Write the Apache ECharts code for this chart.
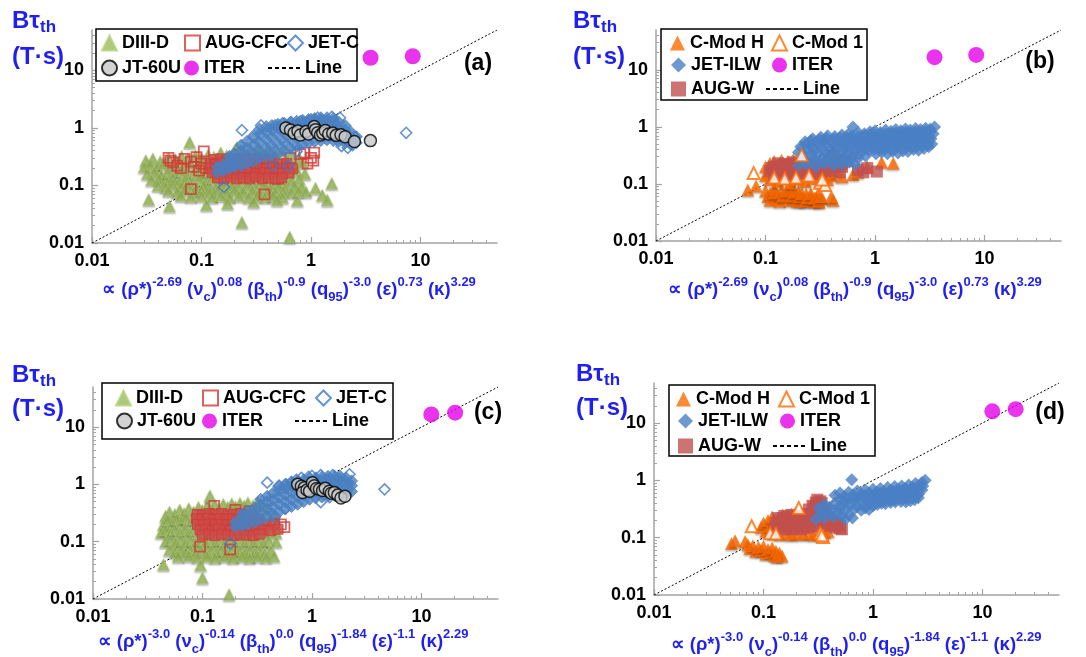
<!DOCTYPE html>
<html>
<head>
<meta charset="utf-8">
<script src="https://cdn.jsdelivr.net/npm/echarts@6/dist/echarts.min.js"></script>
<style>
  html, body { margin: 0; padding: 0; background: #fff; }
  #chart { width: 1086px; height: 657px; }
</style>
</head>
<body>
<div id="chart"></div>
<script>
// ---- axis ticks ----
const majorTicks = [0.01, 0.1, 1, 10];
const axisMin = 0.01;
const axisMax = 50;
const lineData = [[0.01, 0.01], [50, 50]];

// exponents written under the x axis
const expsTop = ['-2.69', '0.08', '-0.9', '-3.0', '0.73', '3.29'];
const expsBottom = ['-3.0', '-0.14', '0.0', '-1.84', '-1.1', '2.29'];

// ---- panel (a) ----
const diiidA = [
  [0.031,0.27],[0.036,0.29],[0.042,0.26],[0.05,0.3],[0.058,0.28],[0.066,0.32],[0.075,0.29],[0.078,0.56],[0.088,0.33],[0.1,0.3],[0.115,0.34],[0.13,0.31],[0.15,0.37],[0.17,0.33],[0.2,0.4],[0.21,0.46],[0.24,0.36],[0.28,0.42],[0.33,0.48],[0.34,0.38],[0.4,0.41],[0.47,0.36],[0.55,0.4],[0.65,0.34],[0.78,0.3],
  [0.03,0.21],[0.034,0.23],[0.039,0.2],[0.045,0.24],[0.052,0.21],[0.06,0.23],[0.07,0.2],[0.08,0.24],[0.092,0.21],[0.105,0.23],[0.12,0.2],[0.14,0.24],[0.16,0.21],[0.19,0.25],[0.22,0.21],[0.26,0.27],[0.3,0.22],[0.36,0.26],[0.43,0.23],[0.5,0.28],[0.6,0.24],[0.7,0.22],[0.84,0.25],
  [0.032,0.16],[0.037,0.17],[0.043,0.15],[0.049,0.17],[0.056,0.16],[0.064,0.18],[0.073,0.15],[0.085,0.17],[0.098,0.16],[0.11,0.18],[0.13,0.15],[0.15,0.17],[0.175,0.16],[0.2,0.18],[0.24,0.15],[0.28,0.17],[0.33,0.16],[0.39,0.18],[0.46,0.15],[0.54,0.17],[0.63,0.16],[0.74,0.18],[0.88,0.16],
  [0.035,0.125],[0.041,0.13],[0.048,0.12],[0.055,0.135],[0.063,0.12],[0.072,0.13],[0.083,0.115],[0.095,0.13],[0.11,0.12],[0.125,0.135],[0.145,0.12],[0.165,0.13],[0.19,0.115],[0.22,0.13],[0.26,0.12],[0.3,0.135],[0.35,0.12],[0.41,0.13],[0.48,0.115],[0.56,0.13],[0.66,0.12],[0.78,0.13],
  [0.04,0.1],[0.047,0.095],[0.055,0.105],[0.065,0.095],[0.076,0.1],[0.09,0.092],[0.105,0.1],[0.12,0.093],[0.14,0.102],[0.165,0.094],[0.19,0.1],[0.22,0.092],[0.26,0.1],[0.31,0.094],[0.36,0.102],[0.42,0.093],[0.5,0.1],[0.58,0.092],[0.7,0.1],[0.82,0.095],
  [0.05,0.082],[0.06,0.078],[0.07,0.085],[0.085,0.078],[0.1,0.083],[0.12,0.077],[0.14,0.082],[0.17,0.076],[0.2,0.083],[0.24,0.078],[0.29,0.082],[0.34,0.076],[0.4,0.083],[0.47,0.078],[0.56,0.08],[0.66,0.076],[0.77,0.08],
  [0.065,0.067],[0.08,0.064],[0.1,0.066],[0.125,0.063],[0.15,0.067],[0.18,0.063],[0.22,0.066],[0.27,0.062],[0.32,0.066],[0.38,0.063],[0.45,0.066],[0.55,0.062],
  [0.033,0.057],[0.051,0.044],[0.111,0.046],[0.173,0.049],[0.234,0.023],[0.3,0.052],[0.49,0.056],[0.64,0.0127],[0.75,0.055],[0.9,0.078],[1.1,0.09],[1.27,0.068],[1.41,0.056],[1.55,0.109]
];
// scattered hollow squares
const augCfcA = [
  [0.05,0.3],[0.052,0.27],[0.055,0.25],[0.06,0.22],[0.065,0.2],[0.07,0.29],[0.08,0.26],[0.08,0.086],[0.085,0.21],[0.09,0.31],[0.095,0.18],[0.1,0.24],[0.105,0.39],[0.11,0.2],
  [0.376,0.07],[0.5,0.13],[0.65,0.3],[0.8,0.35],[0.87,0.37],[0.93,0.24],[1.0,0.3],[1.07,0.37],[1.05,0.27]
];
// dense part of the same set, where the squares merge
const augCfcCoreA = [
  [0.13,0.28],[0.15,0.29],[0.17,0.27],[0.19,0.29],[0.22,0.28],[0.25,0.29],[0.28,0.27],[0.32,0.29],[0.37,0.28],[0.42,0.29],
  [0.12,0.24],[0.135,0.23],[0.155,0.245],[0.175,0.235],[0.2,0.24],[0.23,0.23],[0.26,0.245],[0.3,0.235],[0.34,0.24],[0.39,0.23],[0.45,0.245],[0.52,0.235],[0.6,0.24],
  [0.12,0.2],[0.135,0.195],[0.155,0.205],[0.175,0.195],[0.2,0.2],[0.23,0.195],[0.26,0.205],[0.3,0.195],[0.34,0.2],[0.39,0.195],[0.45,0.205],[0.52,0.195],[0.6,0.2],[0.68,0.195],
  [0.125,0.165],[0.145,0.16],[0.165,0.17],[0.19,0.16],[0.215,0.165],[0.245,0.16],[0.28,0.17],[0.32,0.16],[0.37,0.165],[0.42,0.16],[0.48,0.17],[0.55,0.16],[0.63,0.165],
  [0.14,0.135],[0.16,0.13],[0.185,0.14],[0.21,0.13],[0.24,0.135],[0.275,0.13],[0.31,0.14],[0.36,0.13],[0.41,0.135],[0.47,0.13],[0.54,0.135]
];
const jetCA = [
  [0.16,0.094],[0.234,0.91],[0.3,0.73],[0.35,1.1],[0.47,1.1],[0.55,1.2],[0.66,1.25],[0.8,1.3],[1.0,1.4],[1.15,1.5],[1.55,1.55],[1.84,1.5],[1.9,0.48],[2.17,0.45],[2.4,0.5],[2.5,0.7],[0.74,0.39],[0.62,0.22],[0.45,0.22],[7.4,0.82]
];
const jetCCoreA = [
  [0.14,0.17],[0.14,0.21],[0.16,0.18],[0.16,0.23],[0.18,0.2],[0.18,0.26],[0.18,0.32],[0.2,0.21],[0.2,0.28],[0.2,0.36],
  [0.23,0.22],[0.23,0.3],[0.23,0.4],[0.23,0.5],[0.26,0.24],[0.26,0.33],[0.26,0.44],[0.26,0.58],[0.3,0.26],[0.3,0.36],[0.3,0.5],[0.3,0.68],
  [0.34,0.3],[0.34,0.4],[0.34,0.56],[0.34,0.78],[0.34,0.95],[0.39,0.32],[0.39,0.44],[0.39,0.62],[0.39,0.85],[0.39,1.05],
  [0.44,0.34],[0.44,0.48],[0.44,0.68],[0.44,0.92],[0.44,1.1],[0.5,0.36],[0.5,0.52],[0.5,0.74],[0.5,1.0],[0.5,1.15],
  [0.57,0.4],[0.57,0.57],[0.57,0.8],[0.57,1.05],[0.57,1.2],[0.65,0.44],[0.65,0.62],[0.65,0.86],[0.65,1.1],[0.65,1.25],
  [0.74,0.48],[0.74,0.68],[0.74,0.92],[0.74,1.15],[0.74,1.3],[0.84,0.52],[0.84,0.74],[0.84,1.0],[0.84,1.25],[0.84,1.35],
  [0.95,0.55],[0.95,0.8],[0.95,1.05],[0.95,1.3],[0.95,1.4],[1.08,0.58],[1.08,0.82],[1.08,1.1],[1.08,1.35],[1.08,1.45],
  [1.23,0.6],[1.23,0.85],[1.23,1.12],[1.23,1.4],[1.23,1.5],[1.4,0.62],[1.4,0.85],[1.4,1.1],[1.4,1.35],[1.4,1.5],
  [1.6,0.6],[1.6,0.82],[1.6,1.05],[1.6,1.3],[1.6,1.45],[1.8,0.58],[1.8,0.78],[1.8,1.0],[1.8,1.25],
  [2.05,0.55],[2.05,0.72],[2.05,0.92],[2.05,1.1],[2.3,0.52],[2.3,0.68],[2.3,0.85],[2.6,0.55],[2.6,0.7]
];
const jt60uA = [
  [0.59,0.99],[0.65,0.92],[0.7,0.81],[0.76,0.88],[0.8,0.75],[0.9,0.86],[0.95,0.78],[1.07,1.05],[1.1,0.93],[1.15,0.82],[1.22,0.75],[1.28,0.81],[1.35,0.9],[1.45,0.78],[1.58,0.81],[1.7,0.74],[1.88,0.76],[2.05,0.7],[2.49,0.58],[3.49,0.6]
];
const iterA = [[3.5, 16.5], [8.5, 17.5]];

// ---- panel (b) ----
const cmodHB = [
  [0.1,0.2],[0.105,0.16],[0.11,0.23],[0.1,0.14],[0.12,0.25],[0.14,0.26],[0.16,0.25],[0.18,0.27],[0.21,0.25],[0.24,0.26],[0.28,0.24],[0.33,0.15],[0.36,0.18],[0.4,0.14],[0.44,0.16],
  [0.069,0.078],[0.082,0.092],[0.1,0.075],[0.105,0.06],[0.11,0.068],[0.12,0.082],[0.125,0.056],[0.13,0.065],[0.14,0.075],[0.15,0.058],[0.16,0.068],[0.17,0.08],[0.18,0.055],[0.19,0.063],[0.2,0.072],[0.21,0.05],[0.22,0.058],[0.235,0.066],[0.25,0.052],[0.26,0.06],[0.275,0.05],[0.29,0.058],[0.3,0.065],[0.31,0.048],[0.33,0.055],[0.416,0.052],[0.4,0.06],
  [0.11,0.052],[0.12,0.07],[0.135,0.05],[0.145,0.062],[0.155,0.075],[0.165,0.052],[0.175,0.062],[0.185,0.072],[0.195,0.05],[0.205,0.06],[0.215,0.068],[0.23,0.05],[0.245,0.058],[0.26,0.068],[0.28,0.056],[0.3,0.05],[0.32,0.06],
  [0.11,0.12],[0.13,0.11],[0.15,0.125],[0.17,0.105],[0.2,0.12],[0.23,0.11],[0.27,0.125],[0.32,0.11],[0.37,0.12],[0.5,0.134],[0.63,0.146],[0.7,0.16],[0.85,0.2],[1.15,0.24],[1.47,0.23]
];
const cmod1B = [[0.078,0.155],[0.214,0.32],[0.315,0.105],[0.35,0.096],[0.12,0.13],[0.15,0.125],[0.19,0.13],[0.25,0.14],[0.33,0.12]];
const augWB = [
  [0.11,0.17],[0.12,0.2],[0.12,0.145],[0.13,0.23],[0.135,0.17],[0.14,0.2],[0.15,0.15],[0.155,0.225],[0.16,0.18],[0.17,0.21],[0.175,0.145],[0.18,0.24],[0.19,0.17],[0.2,0.2],[0.21,0.15],[0.22,0.22],[0.23,0.175],[0.25,0.2],[0.26,0.15],[0.28,0.18],[0.3,0.21],[0.32,0.16],[0.34,0.19],[0.36,0.22],[0.38,0.26],[0.4,0.3],[0.42,0.32],[0.44,0.27],[0.42,0.2],[0.46,0.23],[0.5,0.2],[0.48,0.16],[0.55,0.25],[0.7,0.176],[0.78,0.16],[0.85,0.19],[1.04,0.165],
  [0.115,0.19],[0.125,0.16],[0.13,0.2],[0.14,0.17],[0.145,0.22],[0.15,0.18],[0.16,0.15],[0.165,0.2],[0.17,0.16],[0.18,0.19],[0.185,0.22],[0.19,0.15],[0.2,0.17],[0.21,0.21],[0.215,0.18],[0.22,0.155],[0.24,0.19],[0.24,0.22],[0.27,0.2],[0.27,0.17],[0.29,0.15],[0.31,0.19],[0.33,0.22],[0.35,0.17],[0.37,0.2],[0.39,0.17],[0.41,0.23],[0.44,0.2],[0.47,0.26],[0.5,0.23]
];
const jetIlwB = [
  [0.23,0.55],[0.27,0.62],[0.32,0.66],[0.37,0.7],[0.43,0.68],[0.5,0.72],[0.57,0.74],[0.63,1.0],[0.7,0.8],[0.8,0.76],[0.9,0.82],[1.0,0.85],[1.12,0.8],[1.25,0.88],[1.4,0.84],[1.55,0.9],[1.72,0.86],[1.9,0.92],[2.1,0.88],[2.35,0.94],[2.6,0.9],[2.9,0.95],[3.2,0.92],[3.5,1.0],
  [0.26,0.58],[0.31,0.6],[0.36,0.63],[0.42,0.62],[0.48,0.65],[0.55,0.66],[0.62,0.7],[0.7,0.68],[0.8,0.7],[0.9,0.72],[1.0,0.74],[1.12,0.72],[1.25,0.76],[1.4,0.74],[1.55,0.78],[1.72,0.76],[1.9,0.8],[2.1,0.78],[2.35,0.82],[2.6,0.8],[2.9,0.84],[3.2,0.82],
  [0.21,0.45],[0.25,0.5],[0.29,0.52],[0.34,0.55],[0.4,0.52],[0.46,0.57],[0.53,0.54],[0.6,0.6],[0.68,0.56],[0.76,0.62],[0.86,0.58],[0.96,0.64],[1.08,0.6],[1.2,0.66],[1.35,0.62],[1.5,0.68],[1.68,0.64],[1.86,0.7],[2.05,0.66],[2.3,0.72],[2.55,0.68],[2.85,0.74],[3.1,0.7],[3.4,0.76],
  [0.23,0.48],[0.27,0.46],[0.31,0.47],[0.36,0.48],[0.42,0.47],[0.49,0.49],[0.56,0.5],[0.64,0.5],[0.72,0.51],[0.8,0.52],[0.9,0.53],[1.0,0.52],[1.12,0.55],[1.25,0.56],[1.4,0.57],[1.55,0.58],[1.75,0.59],[1.95,0.6],[2.15,0.6],[2.4,0.61],[2.65,0.62],[2.95,0.63],[3.25,0.62],
  [0.2,0.36],[0.24,0.4],[0.28,0.38],[0.33,0.42],[0.39,0.39],[0.45,0.43],[0.52,0.4],[0.59,0.44],[0.67,0.41],[0.75,0.45],[0.84,0.42],[0.94,0.46],[1.05,0.44],[1.17,0.48],[1.3,0.45],[1.45,0.5],[1.62,0.47],[1.8,0.52],[2.0,0.49],[2.22,0.53],[2.48,0.5],[2.75,0.55],[3.05,0.52],[3.3,0.5],
  [0.22,0.33],[0.26,0.35],[0.3,0.34],[0.35,0.36],[0.42,0.35],[0.49,0.37],[0.57,0.36],[0.66,0.38],[0.76,0.38],[0.88,0.39],[0.98,0.4],[1.1,0.41],[1.23,0.42],[1.38,0.42],[1.55,0.43],[1.72,0.44],[1.92,0.45],[2.15,0.46],[2.4,0.46],[2.7,0.47],[3.0,0.48],
  [0.22,0.28],[0.27,0.3],[0.32,0.27],[0.38,0.31],[0.45,0.28],[0.53,0.32],[0.62,0.29],[0.72,0.33],[0.82,0.31],[1.02,0.34],[1.15,0.36],[1.3,0.34],[1.45,0.37],[1.62,0.35],[1.8,0.38],[2.0,0.37],[2.25,0.4],[2.5,0.39],[2.8,0.42],[3.1,0.45],
  [0.22,0.24],[0.27,0.25],[0.32,0.24],[0.38,0.25],[0.45,0.24],[0.53,0.26],[0.6,0.27],[0.7,0.28],
  [0.2,0.21],[0.24,0.22],[0.29,0.2],[0.35,0.23],[0.42,0.21],[0.5,0.22],[0.58,0.24],[0.66,0.22]
];
const iterB = [[3.5, 16.7], [8.4, 18.3]];

// ---- panel (c) ----
const diiidC = [
  [0.046,0.28],[0.05,0.33],[0.056,0.3],[0.062,0.36],[0.068,0.31],[0.075,0.38],[0.083,0.33],[0.092,0.4],[0.1,0.35],[0.11,0.42],[0.117,0.63],[0.12,0.37],[0.13,0.44],[0.14,0.38],[0.155,0.45],[0.17,0.4],[0.185,0.46],[0.2,0.41],[0.22,0.47],[0.24,0.42],[0.26,0.48],[0.29,0.43],[0.32,0.5],[0.35,0.44],[0.4,0.38],
  [0.044,0.2],[0.048,0.24],[0.053,0.21],[0.058,0.25],[0.064,0.22],[0.07,0.26],[0.077,0.21],[0.085,0.25],[0.094,0.22],[0.104,0.26],[0.115,0.22],[0.127,0.25],[0.14,0.21],[0.155,0.26],[0.17,0.23],[0.19,0.27],[0.21,0.22],[0.23,0.26],[0.26,0.23],[0.29,0.27],[0.32,0.22],[0.36,0.26],[0.41,0.23],[0.46,0.27],
  [0.042,0.144],[0.046,0.16],[0.051,0.14],[0.056,0.165],[0.062,0.145],[0.068,0.16],[0.075,0.14],[0.083,0.165],[0.092,0.145],[0.1,0.16],[0.11,0.14],[0.122,0.165],[0.135,0.145],[0.15,0.16],[0.165,0.14],[0.18,0.165],[0.2,0.145],[0.22,0.16],[0.245,0.14],[0.27,0.165],[0.3,0.145],[0.33,0.16],[0.37,0.14],[0.42,0.16],[0.47,0.145],
  [0.046,0.1],[0.051,0.11],[0.057,0.095],[0.063,0.108],[0.07,0.094],[0.078,0.107],[0.087,0.095],[0.096,0.108],[0.106,0.094],[0.117,0.107],[0.13,0.095],[0.143,0.108],[0.158,0.094],[0.175,0.107],[0.195,0.095],[0.215,0.108],[0.24,0.094],[0.265,0.107],[0.29,0.095],[0.32,0.108],[0.36,0.094],[0.4,0.107],[0.47,0.1],
  [0.05,0.072],[0.056,0.066],[0.063,0.074],[0.07,0.065],[0.078,0.072],[0.087,0.065],[0.097,0.073],[0.108,0.064],[0.12,0.071],[0.133,0.064],[0.148,0.072],[0.165,0.063],[0.183,0.071],[0.2,0.064],[0.22,0.072],[0.245,0.063],[0.27,0.071],[0.3,0.064],[0.33,0.072],[0.37,0.063],[0.42,0.07],[0.45,0.056],
  [0.06,0.055],[0.075,0.057],[0.09,0.054],[0.11,0.056],[0.13,0.053],[0.16,0.056],[0.19,0.053],[0.23,0.056],[0.27,0.053],[0.32,0.056],[0.38,0.054],
  [0.044,0.04],[0.096,0.039],[0.1,0.0235],[0.175,0.012]
];
const augCfcC = [
  [0.095,0.082],[0.128,0.42],[0.179,0.073],[0.2,0.36],[0.27,0.34],[0.45,0.21],[0.52,0.2],[0.56,0.18]
];
const augCfcCoreC = [
  [0.09,0.3],[0.1,0.29],[0.115,0.31],[0.13,0.3],[0.15,0.31],[0.17,0.29],[0.19,0.3],[0.22,0.31],[0.25,0.29],
  [0.088,0.25],[0.1,0.245],[0.113,0.255],[0.128,0.245],[0.145,0.25],[0.165,0.245],[0.19,0.255],[0.215,0.245],[0.245,0.25],[0.28,0.245],[0.32,0.25],
  [0.09,0.2],[0.102,0.195],[0.116,0.205],[0.132,0.195],[0.15,0.2],[0.17,0.195],[0.195,0.205],[0.22,0.195],[0.25,0.2],[0.29,0.195],[0.33,0.205],[0.38,0.195],[0.44,0.2],
  [0.095,0.16],[0.108,0.165],[0.123,0.155],[0.14,0.165],[0.16,0.16],[0.18,0.155],[0.205,0.165],[0.235,0.16],[0.27,0.155],[0.31,0.165],[0.36,0.16],[0.42,0.155],[0.49,0.165],
  [0.1,0.13],[0.115,0.135],[0.13,0.128],[0.15,0.135],[0.17,0.13],[0.195,0.128],[0.22,0.135],[0.25,0.13],[0.29,0.128],[0.33,0.135]
];
const jetCC = [
  [0.18,0.093],[0.39,1.07],[0.5,0.95],[0.58,1.0],[0.65,1.1],[0.72,1.2],[0.8,1.3],[0.93,1.35],[1.0,1.4],[1.2,1.45],[1.55,1.45],[2.2,1.5],[1.2,0.49],[1.45,0.6],[1.75,0.62],[0.46,0.27],[0.57,0.38],[4.6,0.82]
];
const jetCCoreC = [
  [0.2,0.18],[0.2,0.22],[0.23,0.19],[0.23,0.25],[0.23,0.3],[0.26,0.2],[0.26,0.27],[0.26,0.34],[0.3,0.22],[0.3,0.3],[0.3,0.39],
  [0.34,0.24],[0.34,0.33],[0.34,0.44],[0.34,0.55],[0.39,0.27],[0.39,0.37],[0.39,0.5],[0.39,0.62],[0.44,0.3],[0.44,0.41],[0.44,0.55],[0.44,0.7],
  [0.5,0.33],[0.5,0.45],[0.5,0.6],[0.5,0.78],[0.5,0.92],[0.57,0.37],[0.57,0.5],[0.57,0.66],[0.57,0.85],[0.57,1.0],
  [0.65,0.41],[0.65,0.55],[0.65,0.72],[0.65,0.92],[0.65,1.08],[0.74,0.45],[0.74,0.6],[0.74,0.78],[0.74,1.0],[0.74,1.15],
  [0.84,0.5],[0.84,0.65],[0.84,0.85],[0.84,1.05],[0.84,1.2],[0.95,0.55],[0.95,0.7],[0.95,0.9],[0.95,1.1],[0.95,1.25],
  [1.08,0.58],[1.08,0.75],[1.08,0.95],[1.08,1.15],[1.08,1.3],[1.23,0.6],[1.23,0.78],[1.23,1.0],[1.23,1.2],[1.23,1.35],
  [1.4,0.62],[1.4,0.8],[1.4,1.0],[1.4,1.2],[1.4,1.38],[1.6,0.64],[1.6,0.82],[1.6,1.02],[1.6,1.22],[1.6,1.4],
  [1.8,0.66],[1.8,0.84],[1.8,1.05],[1.8,1.25],[1.8,1.4],[2.05,0.7],[2.05,0.88],[2.05,1.08],[2.05,1.3],[2.3,0.75],[2.3,0.95],[2.3,1.15]
];
const jt60uC = [
  [0.74,1.0],[0.8,0.93],[0.85,0.87],[0.82,0.72],[0.9,0.8],[0.95,0.76],[1.01,1.07],[1.05,0.95],[1.1,0.85],[1.17,0.82],[1.25,0.78],[1.32,0.86],[1.44,0.76],[1.5,0.7],[1.6,0.72],[1.72,0.65],[1.84,0.58],[2.0,0.62]
];
const iterC = [[12.3, 16.6], [20.3, 17.8]];

// ---- panel (d) ----
const cmodHD = [
  [0.051,0.079],[0.055,0.088],[0.068,0.086],[0.072,0.075],[0.075,0.065],[0.08,0.072],[0.085,0.058],[0.09,0.068],[0.095,0.06],[0.1,0.07],[0.105,0.052],[0.11,0.062],[0.115,0.055],[0.12,0.066],[0.125,0.05],[0.13,0.058],[0.135,0.049],[0.14,0.054],[0.148,0.048],[0.132,0.047],
  [0.095,0.15],[0.1,0.18],[0.105,0.13],[0.11,0.2],[0.115,0.16],[0.12,0.23],[0.15,0.25],[0.18,0.26],[0.2,0.27],[0.22,0.27],
  [0.12,0.12],[0.14,0.115],[0.16,0.12],[0.18,0.113],[0.2,0.12],[0.23,0.115],[0.26,0.12],[0.29,0.113],[0.32,0.12],[0.36,0.125],[0.39,0.13]
];
const cmod1D = [[0.078,0.158],[0.21,0.33],[0.33,0.12],[0.35,0.103],[0.115,0.12],[0.13,0.118],[0.34,0.11]];
const augWD = [
  [0.125,0.14],[0.13,0.18],[0.135,0.22],[0.14,0.15],[0.15,0.19],[0.155,0.24],[0.16,0.14],[0.17,0.17],[0.175,0.21],[0.18,0.25],[0.19,0.15],[0.2,0.19],[0.21,0.23],[0.22,0.14],[0.23,0.17],[0.24,0.21],[0.25,0.26],[0.26,0.31],[0.26,0.15],[0.27,0.19],[0.28,0.24],[0.28,0.36],[0.29,0.29],[0.3,0.41],[0.31,0.46],[0.31,0.16],[0.32,0.21],[0.33,0.33],[0.34,0.26],[0.34,0.4],[0.36,0.18],[0.38,0.22],[0.4,0.16],[0.42,0.2],[0.45,0.15],[0.48,0.18],[0.52,0.14],[0.5,0.16],
  [0.13,0.15],[0.14,0.2],[0.145,0.17],[0.15,0.22],[0.16,0.16],[0.165,0.19],[0.17,0.23],[0.18,0.14],[0.185,0.17],[0.19,0.21],[0.2,0.16],[0.205,0.24],[0.21,0.19],[0.22,0.17],[0.225,0.21],[0.235,0.15],[0.24,0.25],[0.245,0.19],[0.26,0.22],[0.27,0.16],[0.28,0.2],[0.29,0.34],[0.3,0.25],[0.31,0.38],[0.32,0.3],[0.33,0.43],[0.34,0.18],[0.35,0.23],[0.36,0.3],[0.38,0.19],[0.42,0.17],[0.46,0.17],[0.5,0.145]
];
const jetIlwD = [
  [0.3,0.21],[0.33,0.25],[0.36,0.22],[0.4,0.26],[0.44,0.23],[0.48,0.27],[0.52,0.24],[0.56,0.21],[0.6,0.25],[0.65,0.22],
  [0.35,0.3],[0.42,0.3],[0.5,0.31],[0.58,0.32],[0.68,0.32],
  [0.32,0.33],[0.36,0.38],[0.4,0.34],[0.45,0.4],[0.5,0.36],[0.55,0.42],[0.6,0.38],[0.66,0.44],[0.72,0.35],[0.78,0.3],[0.85,0.33],[0.92,0.31],
  [0.5,0.47],[0.58,0.48],[0.66,0.5],[0.74,0.52],[0.84,0.55],[0.94,0.56],[1.05,0.58],[1.16,0.6],[1.28,0.6],[1.4,0.62],[1.55,0.63],[1.7,0.64],[1.85,0.66],[2.0,0.66],[2.2,0.68],[2.4,0.7],[2.6,0.72],[2.85,0.8],
  [0.45,0.55],[0.5,0.6],[0.55,0.52],[0.64,1.03],[0.6,0.62],[0.66,0.56],[0.72,0.65],[0.78,0.58],[0.85,0.68],[0.92,0.6],[1.0,0.7],[1.08,0.62],[1.17,0.72],[1.26,0.64],[1.36,0.75],[1.46,0.67],[1.58,0.78],[1.7,0.7],[1.83,0.8],[1.97,0.72],[2.12,0.83],[2.28,0.75],[2.45,0.88],[2.62,0.8],[2.8,0.92],[3.0,1.0],
  [0.75,0.45],[0.82,0.5],[0.9,0.43],[0.98,0.52],[1.06,0.45],[1.15,0.54],[1.24,0.47],[1.34,0.56],[1.45,0.49],[1.56,0.58],[1.68,0.5],[1.8,0.6],[1.94,0.52],[2.08,0.62],[2.24,0.54],[2.4,0.64],[2.6,0.57],[2.8,0.68],
  [0.85,0.38],[0.95,0.4],[1.05,0.4],[1.15,0.43],[1.3,0.44],[1.45,0.45],[1.6,0.46],[1.8,0.48],[2.0,0.48],[2.2,0.5],[2.45,0.52],
  [1.0,0.36],[1.1,0.38],[1.2,0.4],[1.3,0.39],[1.45,0.41],[1.6,0.42],[1.8,0.43],[2.0,0.42],[2.2,0.44],[2.4,0.46],[2.6,0.5]
];
const iterD = [[12.3, 16.0], [20.1, 17.5]];

// ---- styles ----
const fontFam = "'Liberation Sans',Arial,Helvetica,sans-serif";
const blue = '#1f1fef';
const shadow = { shadowBlur: 2, shadowOffsetY: 1.5, shadowColor: 'rgba(0,0,0,0.35)' };

const seriesStyle = {
  'DIII-D':  { symbol: 'triangle', symbolSize: 12, itemStyle: { color: '#9bbb59', borderColor: '#b8d184', borderWidth: 0.6, ...shadow } },
  'AUG-CFC': { symbol: 'rect', symbolSize: 10, itemStyle: { color: 'rgba(255,255,255,0)', borderColor: '#d23a36', borderWidth: 1.8 } },
  'AUG-CFC core': { symbol: 'rect', symbolSize: 10, itemStyle: { color: '#cc4c49', borderColor: '#d23a36', borderWidth: 1 } },
  'JET-C':   { symbol: 'diamond', symbolSize: 11, itemStyle: { color: 'rgba(255,255,255,0)', borderColor: '#3f78c8', borderWidth: 1.6 } },
  'JET-C core': { symbol: 'diamond', symbolSize: 12, itemStyle: { color: '#4a7fc0', borderColor: '#4a7fc0', borderWidth: 1 } },
  'JT-60U':  { symbol: 'circle', symbolSize: 12, itemStyle: { color: '#c8c8c8', borderColor: '#000', borderWidth: 1.5 } },
  'ITER':    { symbol: 'circle', symbolSize: 16, itemStyle: { color: '#e300e8' } },
  'C-Mod H': { symbol: 'triangle', symbolSize: 13, itemStyle: { color: '#ff6a00', ...shadow } },
  'C-Mod 1': { symbol: 'triangle', symbolSize: 12, itemStyle: { color: '#fff', borderColor: '#ff6a00', borderWidth: 2 } },
  'JET-ILW': { symbol: 'diamond', symbolSize: 13, itemStyle: { color: '#4a80c4' } },
  'AUG-W':   { symbol: 'rect', symbolSize: 12, itemStyle: { color: '#c0504d' } }
};

// [series name, data, style key]; hollow sets come before their dense part so the legend takes the hollow icon
const panels = [
  { grid: { left: 92, top: 30, width: 405, height: 213 },
    series: [['DIII-D', diiidA], ['AUG-CFC', augCfcA], ['AUG-CFC', augCfcCoreA, 'AUG-CFC core'], ['JET-C', jetCA], ['JET-C', jetCCoreA, 'JET-C core'], ['JT-60U', jt60uA], ['ITER', iterA]],
    legend: [['DIII-D', 101, 43], ['AUG-CFC', 184, 43], ['JET-C', 287, 43], ['JT-60U', 101, 68], ['ITER', 184, 68], ['Line', 268, 68]],
    box: [96, 29, 261, 52], exps: expsTop, xname: [289, 290], yname: [12, 21, 57], tag: ['(a)', 478, 64] },
  { grid: { left: 656, top: 30, width: 405, height: 211 },
    series: [['C-Mod H', cmodHB], ['AUG-W', augWB], ['JET-ILW', jetIlwB], ['C-Mod 1', cmod1B], ['ITER', iterB]],
    legend: [['C-Mod H', 670, 43], ['C-Mod 1', 771, 43], ['JET-ILW', 671, 65], ['ITER', 772, 65], ['AUG-W', 671, 89], ['Line', 766, 89]],
    box: [661, 29, 206, 71], exps: expsTop, xname: [855, 290], yname: [573, 21, 57], tag: ['(b)', 1040, 62] },
  { grid: { left: 93, top: 387, width: 405, height: 212 },
    series: [['DIII-D', diiidC], ['AUG-CFC', augCfcC], ['AUG-CFC', augCfcCoreC, 'AUG-CFC core'], ['JET-C', jetCC], ['JET-C', jetCCoreC, 'JET-C core'], ['JT-60U', jt60uC], ['ITER', iterC]],
    legend: [['DIII-D', 115, 398], ['AUG-CFC', 202, 398], ['JET-C', 315, 398], ['JT-60U', 116, 421], ['ITER', 202, 421], ['Line', 295, 421]],
    box: [102, 383, 291, 56], exps: expsBottom, xname: [283, 642], yname: [12, 375, 409], tag: ['(c)', 488, 413] },
  { grid: { left: 654, top: 383, width: 405, height: 212 },
    series: [['C-Mod H', cmodHD], ['AUG-W', augWD], ['JET-ILW', jetIlwD], ['C-Mod 1', cmod1D], ['ITER', iterD]],
    legend: [['C-Mod H', 676, 399], ['C-Mod 1', 778, 399], ['JET-ILW', 678, 421], ['ITER', 780, 421], ['AUG-W', 678, 446], ['Line', 773, 446]],
    box: [669, 385, 206, 71], exps: expsBottom, xname: [856, 645], yname: [576, 374, 408], tag: ['(d)', 1050, 413] }
];

const minorTicks = [];
majorTicks.forEach(t => {
  for (let k = 2; k <= 9; k++) {
    const v = +(t * k).toPrecision(3);
    if (v < axisMax) minorTicks.push(v);
  }
});

const grids = [], xAxes = [], yAxes = [], series = [], legends = [], graphics = [];
const axisGray = '#a3a3a3';
const labelStyle = { fontSize: 18, fontWeight: 'bold', color: '#000', fontFamily: fontFam };
const dottedIcon = 'path://M0,0h4v2h-4z M7,0h4v2h-4z M14,0h4v2h-4z M21,0h4v2h-4z M28,0h4v2h-4z';

function makeAxes(dim, gi) {
  const isX = dim === 'x';
  const base = {
    type: 'log', logBase: 10, min: axisMin, max: axisMax, gridIndex: gi,
    position: isX ? 'bottom' : 'left', splitLine: { show: false }
  };
  const major = Object.assign({}, base, {
    axisLine: { show: true, onZero: false, lineStyle: { color: axisGray, width: 1.5 } },
    axisTick: { show: true, inside: true, length: 6, customValues: majorTicks, lineStyle: { color: axisGray, width: 1.2 } },
    axisLabel: { show: true, customValues: majorTicks, margin: isX ? 9 : 8, formatter: v => String(v), ...labelStyle }
  });
  const minor = Object.assign({}, base, {
    axisLine: { show: false, onZero: false },
    axisTick: { show: true, inside: true, length: 3, customValues: minorTicks, lineStyle: { color: axisGray, width: 1 } },
    axisLabel: { show: false }
  });
  return [major, minor];
}

function richFormula(exps) {
  const parts = [['(ρ*)', ''], ['(ν', 'c'], ['(β', 'th'], ['(q', '95'], ['(ε)', ''], ['(κ)', '']];
  let s = '{m|∝ }';
  parts.forEach((p, i) => {
    if (p[1]) s += '{m|' + p[0] + '}{d|' + p[1] + '}{m|)}';
    else s += '{m|' + p[0] + '}';
    s += '{u|' + exps[i] + '}' + (i < parts.length - 1 ? '{m| }' : '');
  });
  return s;
}

panels.forEach((p, i) => {
  grids.push(Object.assign({ containLabel: false }, p.grid));
  const [xMaj, xMin] = makeAxes('x', i);
  const [yMaj, yMin] = makeAxes('y', i);
  xAxes.push(xMaj, xMin);
  yAxes.push(yMaj, yMin);

  series.push({
    name: 'Line', type: 'line', xAxisIndex: 2 * i, yAxisIndex: 2 * i, data: lineData,
    symbol: 'none', silent: true, z: 1, color: '#000',
    lineStyle: { color: '#000', width: 1, type: [2, 2] }
  });
  p.series.forEach(([name, data, key]) => {
    series.push(Object.assign({
      name, type: 'scatter', xAxisIndex: 2 * i, yAxisIndex: 2 * i, data, z: 2
    }, seriesStyle[key || name]));
  });

  p.legend.forEach(([name, x, y]) => {
    const isLine = name === 'Line';
    legends.push({
      left: x, top: y - 11, padding: 0, itemGap: 0, selectedMode: false,
      itemWidth: isLine ? 32 : 15, itemHeight: isLine ? 14 : 15,
      data: [isLine ? { name, icon: dottedIcon, itemStyle: { color: '#000', borderWidth: 0 } } : name], z: 5,
      textStyle: { fontSize: 18, fontWeight: 'bold', color: '#000', fontFamily: fontFam, lineHeight: 22 }
    });
  });

  graphics.push({
    type: 'rect', z: 3, shape: { x: p.box[0], y: p.box[1], width: p.box[2], height: p.box[3] },
    style: { fill: '#fff', stroke: '#000', lineWidth: 1.5 }
  });
  graphics.push({
    type: 'text', z: 6, x: p.xname[0], y: p.xname[1],
    style: {
      text: richFormula(p.exps), align: 'center', verticalAlign: 'middle',
      rich: {
        m: { fontSize: 18.5, fontWeight: 'bold', fill: blue, fontFamily: fontFam, lineHeight: 28 },
        u: { fontSize: 13, fontWeight: 'bold', fill: blue, fontFamily: fontFam, lineHeight: 14, verticalAlign: 'top' },
        d: { fontSize: 13, fontWeight: 'bold', fill: blue, fontFamily: fontFam, lineHeight: 14, verticalAlign: 'bottom' }
      }
    }
  });
  graphics.push({
    type: 'text', z: 6, x: p.yname[0], y: p.yname[1],
    style: {
      text: '{b|Bτ}{s|th}', align: 'left', verticalAlign: 'middle',
      rich: {
        b: { fontSize: 24, fontWeight: 'bold', fill: blue, fontFamily: fontFam, lineHeight: 30 },
        s: { fontSize: 17, fontWeight: 'bold', fill: blue, fontFamily: fontFam, lineHeight: 17, verticalAlign: 'bottom' }
      }
    }
  });
  graphics.push({
    type: 'text', z: 6, x: p.yname[0], y: p.yname[2],
    style: { text: '(T·s)', align: 'left', verticalAlign: 'middle', fill: blue, font: 'bold 24px ' + fontFam }
  });
  graphics.push({
    type: 'text', z: 6, x: p.tag[1], y: p.tag[2],
    style: { text: p.tag[0], align: 'center', verticalAlign: 'middle', fill: '#000', font: 'bold 23px ' + fontFam }
  });
});

const chart = echarts.init(document.getElementById('chart'), null, { renderer: 'canvas' });
chart.setOption({
  animation: false,
  backgroundColor: '#fff',
  grid: grids,
  xAxis: xAxes,
  yAxis: yAxes,
  legend: legends,
  graphic: { elements: graphics },
  series: series
});
</script>
</body>
</html>
